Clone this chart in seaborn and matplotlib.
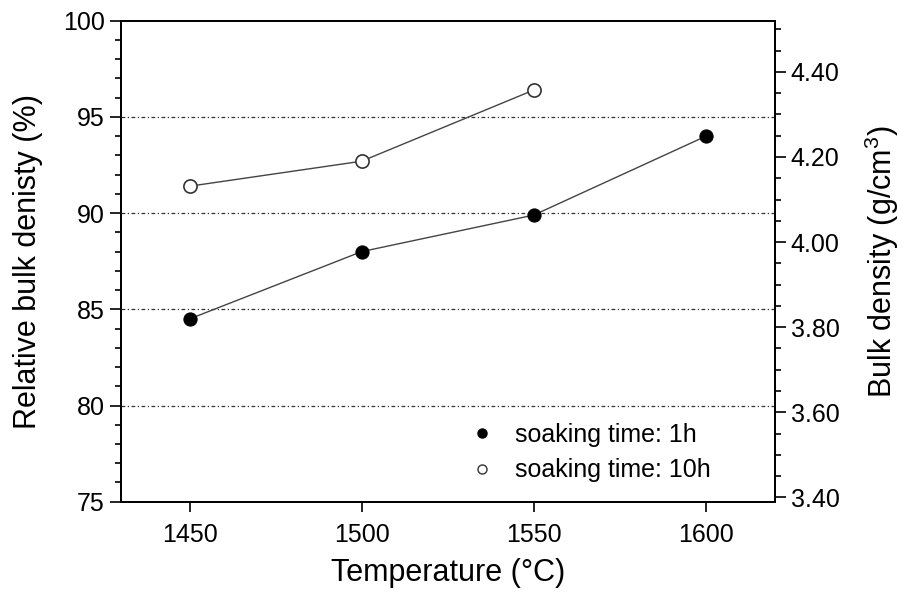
"""
Relative bulk density vs sintering temperature
"""
import numpy as np
import pandas as pd
import matplotlib
matplotlib.use('Agg')
import matplotlib.pyplot as plt
from matplotlib.lines import Line2D
from matplotlib.ticker import MultipleLocator, FormatStrFormatter
import seaborn as sns

# 数据
temp_1h = [1450, 1500, 1550, 1600]
density_1h = [84.5, 88.0, 89.9, 94.0]
temp_10h = [1450, 1500, 1550]
density_10h = [91.4, 92.7, 96.4]
labels = ['soaking time: 1h', 'soaking time: 10h']
x_ticks = [1450, 1500, 1550, 1600]
left_ticks = [75, 80, 85, 90, 95, 100]
right_ticks = [3.40, 3.60, 3.80, 4.00, 4.20, 4.40]
grid_levels = [80, 85, 90, 95]

df = pd.concat([
    pd.DataFrame({'temp': temp_1h, 'density': density_1h, 'series': labels[0]}),
    pd.DataFrame({'temp': temp_10h, 'density': density_10h, 'series': labels[1]}),
])

sns.set_style('ticks')
plt.rcParams['font.family'] = ['Liberation Sans', 'DejaVu Sans']
plt.rcParams['mathtext.fontset'] = 'custom'
plt.rcParams['mathtext.rm'] = 'Liberation Sans'
plt.rcParams['text.color'] = 'black'
plt.rcParams['axes.labelcolor'] = 'black'
plt.rcParams['xtick.color'] = 'black'
plt.rcParams['ytick.color'] = 'black'

fig = plt.figure(figsize=(9.04, 5.94), dpi=100)
ax = fig.add_axes([0.1335, 0.1554, 0.7235, 0.8096])

# 网格线
for g in grid_levels:
    ax.axhline(g, color='#333333', lw=0.9, ls=(0, (3, 2, 1, 2)), zorder=0)

# 两条曲线
d1 = df[df['series'] == labels[0]]
d2 = df[df['series'] == labels[1]]
sns.lineplot(data=d1, x='temp', y='density', ax=ax, color='#444444', lw=1.0,
             marker='o', markersize=9.5, markerfacecolor='black',
             markeredgecolor='black', legend=False)
sns.lineplot(data=d2, x='temp', y='density', ax=ax, color='#444444', lw=1.0,
             marker='o', markersize=9.5, markerfacecolor='white',
             markeredgecolor='#333333', markeredgewidth=1.2, legend=False)

ax.set_xlim(1430, 1620)
ax.set_ylim(75, 100)
ax.set_xticks(x_ticks)
ax.set_yticks(left_ticks)
ax.yaxis.set_minor_locator(MultipleLocator(1))
ax.set_xlabel('Temperature (°C)', fontsize=22, labelpad=8)
ax.set_ylabel('Relative bulk denisty (%)', fontsize=22, labelpad=14)
ax.tick_params(axis='both', labelsize=18, direction='out', width=1.2, color='black')
ax.tick_params(axis='y', which='major', length=8)
ax.tick_params(axis='y', which='minor', length=4, width=1.2)
ax.tick_params(axis='x', which='major', length=7, pad=8)
for s in ax.spines.values():
    s.set_linewidth(1.3)
    s.set_color('black')

# 右轴
ax2 = ax.twinx()
ax2.set_ylim(3.39, 4.52)
ax2.set_yticks(right_ticks)
ax2.yaxis.set_minor_locator(MultipleLocator(0.05))
ax2.yaxis.set_major_formatter(FormatStrFormatter('%.2f'))
ax2.tick_params(axis='y', labelsize=18, direction='out', width=1.2, color='black')
ax2.tick_params(axis='y', which='major', length=8)
ax2.tick_params(axis='y', which='minor', length=4, width=1.2)
ax2.set_ylabel('Bulk density (g/cm$^3$)', fontsize=22, labelpad=17)
for s in ax2.spines.values():
    s.set_linewidth(1.3)
    s.set_color('black')

# 图例
handles = [
    Line2D([], [], ls='none', marker='o', markersize=6.5, markerfacecolor='black',
           markeredgecolor='black'),
    Line2D([], [], ls='none', marker='o', markersize=6.5, markerfacecolor='white',
           markeredgecolor='#333333'),
]
ax.legend(handles, labels, loc='lower left', bbox_to_anchor=(0.534, 0.04),
          frameon=False, fontsize=18, handlelength=1.0, handletextpad=0.8,
          labelspacing=0.45, borderpad=0, borderaxespad=0)

fig.savefig('out.png', dpi=100)
